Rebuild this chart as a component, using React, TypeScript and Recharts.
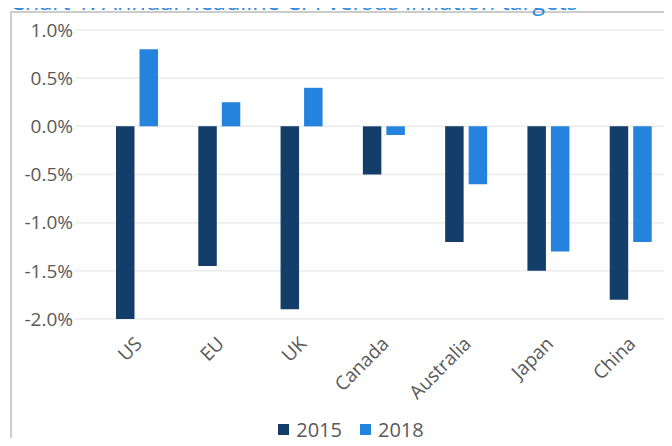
import { BarChart, Bar, XAxis, YAxis, CartesianGrid, Legend } from 'recharts';

// ─── Data ─────────────────────────────────────────────────────

const countries = ['US', 'EU', 'UK', 'Canada', 'Australia', 'Japan', 'China'];
const cpi2015 = [-2.0, -1.45, -1.9, -0.5, -1.2, -1.5, -1.8];
const cpi2018 = [0.8, 0.25, 0.4, -0.09, -0.6, -1.3, -1.2];
const yTicks = [1.0, 0.5, 0.0, -0.5, -1.0, -1.5, -2.0];

const data = countries.map((c, i) => ({ country: c, y2015: cpi2015[i], y2018: cpi2018[i] }));

const DARK = '#143e6a';
const LIGHT = '#2483dc';
const TEXT = '#595959';
const FONT = '"Open Sans", sans-serif';

// ─── Rotated category tick ────────────────────────────────────

// eslint-disable-next-line @typescript-eslint/no-explicit-any
const CountryTick = ({ x, y, payload }: any) => (
    <text
        x={x + 6}
        y={y + 18}
        transform={`rotate(-45, ${x + 6}, ${y + 18})`}
        textAnchor="end"
        fontSize={19}
        fontFamily={FONT}
        fill={TEXT}
    >
        {payload.value}
    </text>
);

// eslint-disable-next-line @typescript-eslint/no-explicit-any
const LegendRow = ({ payload }: any) => (
    <div style={{ display: 'flex', justifyContent: 'center', gap: 18, paddingLeft: 30, fontFamily: FONT, fontSize: 20, color: TEXT }}>
        {payload.map((p: { value: string; color: string }) => (
            <span key={p.value} style={{ display: 'flex', alignItems: 'center', gap: 7 }}>
                <span style={{ width: 11, height: 11, background: p.color, display: 'inline-block' }} />
                {p.value}
            </span>
        ))}
    </div>
);

export default function App() {
    return (
        <div style={{ position: 'relative', width: 672, height: 446, margin: -8, overflow: 'hidden', background: '#fff' }}>
            <div
                style={{
                    position: 'absolute', left: 10, top: 11, width: 700, height: 480,
                    borderLeft: '2px solid #cccccc', borderTop: '2px solid #cccccc',
                }}
            />
            <div style={{ position: 'absolute', left: 0, top: 0 }}>
                <BarChart
                    width={672}
                    height={446}
                    data={data}
                    margin={{ top: 30, right: 0, left: 0, bottom: 3 }}
                    barSize={18.5}
                    barGap={5}
                >
                    <CartesianGrid stroke="#ebebeb" strokeWidth={1.5} vertical={false} />
                    <XAxis
                        dataKey="country"
                        axisLine={false}
                        tickLine={false}
                        interval={0}
                        height={97}
                        padding={{ left: 21, right: 0 }}
                        tick={<CountryTick />}
                    />
                    <YAxis
                        width={75}
                        domain={[-2, 1]}
                        ticks={yTicks}
                        axisLine={false}
                        tickLine={false}
                        tickSize={0}
                        tickMargin={2}
                        tickFormatter={(v: number) => `${v.toFixed(1)}%`}
                        tick={{ fill: TEXT, fontSize: 19, fontFamily: FONT }}
                    />
                    <Legend verticalAlign="bottom" content={<LegendRow />} />
                    <Bar dataKey="y2015" name="2015" fill={DARK} isAnimationActive={false} />
                    <Bar dataKey="y2018" name="2018" fill={LIGHT} isAnimationActive={false} />
                </BarChart>
            </div>
            <div
                style={{
                    position: 'absolute', left: 10, top: -10, zIndex: 10, whiteSpace: 'nowrap',
                    fontFamily: FONT, fontSize: 23.5, lineHeight: 1, color: '#2b88df',
                }}
            >
                Chart 1: Annual headline CPI versus inflation targets
            </div>
        </div>
    );
}
